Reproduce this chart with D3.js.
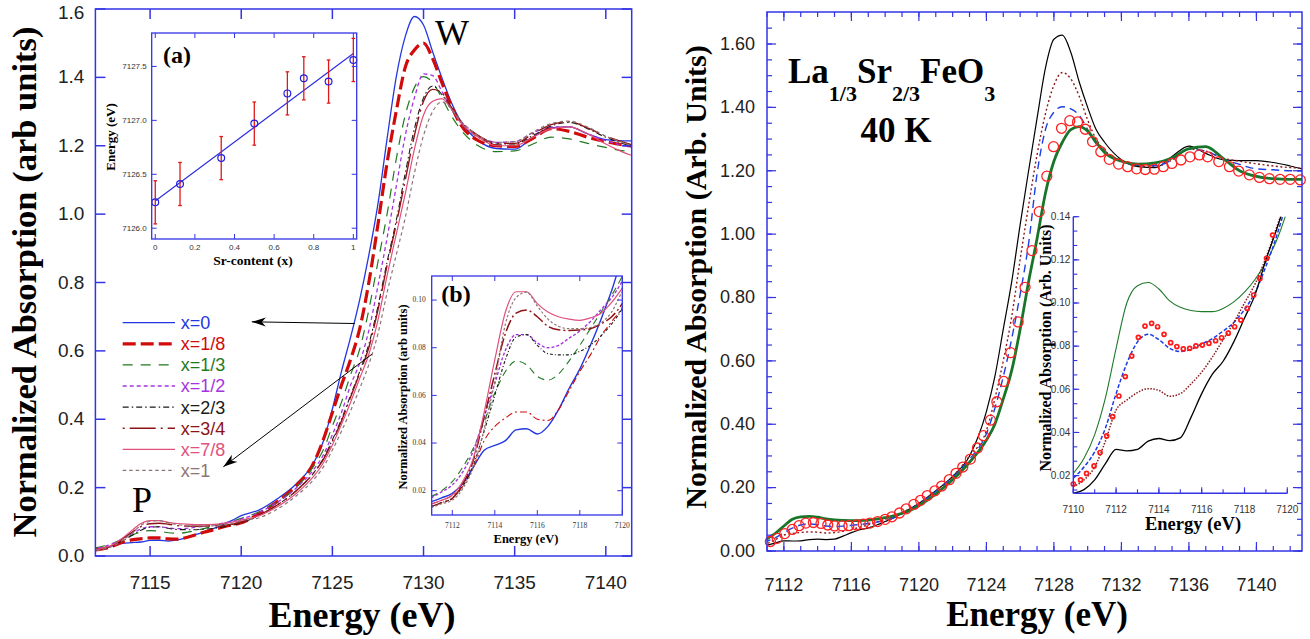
<!DOCTYPE html>
<html>
<head>
<meta charset="utf-8">
<script src="https://cdn.jsdelivr.net/npm/d3@7/dist/d3.min.js"></script>
<style>
  body { margin: 0; background: #fff; }
  svg { display: block; }
</style>
</head>
<body>
<svg id="chart" width="1310" height="639"></svg>
<script>
// ---------- left panel: Fe K-edge, La(1-x)Sr(x)FeO3 ----------
const energyL = [7111, 7111.5, 7112, 7112.5, 7113, 7113.5, 7114, 7114.5, 7115, 7115.5, 7116, 7116.5, 7117, 7117.5, 7118, 7118.5, 7119, 7119.5, 7120,
  7121, 7122, 7123, 7124,
  7124.5, 7125, 7125.5, 7126, 7126.5, 7127, 7127.5, 7128, 7128.5, 7129, 7129.5, 7130, 7130.5, 7131, 7131.5,
  7132, 7133, 7134, 7135, 7136, 7137, 7138, 7139, 7140, 7141, 7141.4];

const absX0 = [0.0154, 0.017, 0.0189, 0.023, 0.030, 0.037, 0.039, 0.041, 0.0455, 0.046, 0.0438, 0.047, 0.054, 0.063, 0.071, 0.081, 0.092, 0.104, 0.118,
  0.135, 0.168, 0.21, 0.275,
  0.335, 0.43, 0.54, 0.64, 0.75, 0.88, 1.03, 1.22, 1.40, 1.52, 1.578, 1.553, 1.475, 1.40, 1.33,
  1.275, 1.215, 1.192, 1.19, 1.225, 1.252, 1.255, 1.235, 1.218, 1.214, 1.214];
const absX18 = [0.0145, 0.016, 0.018, 0.022, 0.030, 0.041, 0.047, 0.0505, 0.053, 0.053, 0.050, 0.0495, 0.054, 0.062, 0.070, 0.077, 0.085, 0.091, 0.097,
  0.125, 0.16, 0.205, 0.275,
  0.34, 0.42, 0.50, 0.575, 0.665, 0.80, 0.97, 1.15, 1.30, 1.43, 1.48, 1.50, 1.455, 1.385, 1.32,
  1.265, 1.215, 1.20, 1.198, 1.222, 1.25, 1.242, 1.225, 1.212, 1.202, 1.20];
const absX13 = [0.0175, 0.020, 0.0238, 0.030, 0.038, 0.049, 0.061, 0.070, 0.0744, 0.0728, 0.068, 0.0664, 0.069, 0.0745, 0.081, 0.088, 0.095, 0.102, 0.110,
  0.13, 0.16, 0.2, 0.265,
  0.31, 0.38, 0.45, 0.53, 0.605, 0.72, 0.86, 1.0, 1.16, 1.29, 1.37, 1.402, 1.385, 1.34, 1.29,
  1.25, 1.20, 1.183, 1.185, 1.205, 1.225, 1.22, 1.207, 1.195, 1.185, 1.183];
const absX12 = [0.017, 0.0195, 0.0224, 0.028, 0.037, 0.051, 0.065, 0.079, 0.0855, 0.0855, 0.082, 0.080, 0.081, 0.084, 0.087, 0.091, 0.096, 0.101, 0.108,
  0.128, 0.158, 0.198, 0.255,
  0.295, 0.355, 0.42, 0.50, 0.565, 0.66, 0.79, 0.93, 1.08, 1.23, 1.34, 1.41, 1.405, 1.36, 1.31,
  1.275, 1.23, 1.21, 1.212, 1.238, 1.255, 1.255, 1.235, 1.215, 1.2, 1.197];
const absX23 = [0.0133, 0.015, 0.0168, 0.022, 0.031, 0.045, 0.060, 0.075, 0.0845, 0.0855, 0.081, 0.0775, 0.077, 0.077, 0.0785, 0.081, 0.085, 0.090, 0.0965,
  0.12, 0.15, 0.19, 0.245,
  0.285, 0.34, 0.40, 0.47, 0.54, 0.62, 0.73, 0.86, 0.98, 1.12, 1.25, 1.34, 1.375, 1.35, 1.31,
  1.27, 1.225, 1.205, 1.205, 1.23, 1.258, 1.268, 1.25, 1.225, 1.205, 1.198];
const absX34 = [0.0133, 0.015, 0.0168, 0.023, 0.033, 0.051, 0.069, 0.086, 0.0945, 0.0958, 0.093, 0.089, 0.0875, 0.0872, 0.0874, 0.088, 0.090, 0.093, 0.0986,
  0.12, 0.15, 0.19, 0.245,
  0.282, 0.335, 0.395, 0.465, 0.535, 0.61, 0.72, 0.85, 0.97, 1.10, 1.23, 1.33, 1.365, 1.355, 1.315,
  1.275, 1.23, 1.207, 1.207, 1.235, 1.262, 1.27, 1.252, 1.228, 1.21, 1.203];
const absX78 = [0.0143, 0.016, 0.0182, 0.024, 0.034, 0.053, 0.075, 0.095, 0.1035, 0.1035, 0.0985, 0.095, 0.093, 0.092, 0.0915, 0.0925, 0.0945, 0.099, 0.105,
  0.118, 0.145, 0.182, 0.235,
  0.272, 0.325, 0.385, 0.45, 0.52, 0.59, 0.69, 0.82, 0.94, 1.06, 1.19, 1.29, 1.33, 1.338, 1.31,
  1.27, 1.225, 1.2, 1.2, 1.225, 1.25, 1.255, 1.235, 1.205, 1.18, 1.172];
const absX1 = [0.0129, 0.0145, 0.016, 0.021, 0.030, 0.046, 0.066, 0.090, 0.101, 0.1033, 0.0975, 0.092, 0.089, 0.088, 0.088, 0.0885, 0.0905, 0.095, 0.1035,
  0.112, 0.138, 0.175, 0.225,
  0.26, 0.31, 0.365, 0.425, 0.49, 0.56, 0.65, 0.77, 0.88, 0.99, 1.12, 1.23, 1.30, 1.328, 1.31,
  1.275, 1.23, 1.21, 1.212, 1.24, 1.265, 1.272, 1.255, 1.228, 1.208, 1.2];

const labelsL = ["x=0", "x=1/8", "x=1/3", "x=1/2", "x=2/3", "x=3/4", "x=7/8", "x=1"];

// inset (a): edge position vs Sr content
const srContent = [0, 0.125, 0.333, 0.5, 0.667, 0.75, 0.875, 1];
const edgeEnergy = [7126.24, 7126.41, 7126.65, 7126.97, 7127.25, 7127.39, 7127.36, 7127.56];
const edgeErr = [0.2, 0.2, 0.2, 0.2, 0.2, 0.2, 0.2, 0.2];

// ---------- right panel: La1/3Sr2/3FeO3, 40 K ----------
const energyR = [7110, 7110.5, 7111, 7111.5, 7112, 7112.5, 7113, 7113.5, 7114, 7114.5, 7115, 7115.5, 7116, 7116.5, 7117, 7117.5, 7118, 7118.5, 7119, 7119.5, 7120,
  7121, 7122, 7123, 7124,
  7124.5, 7125, 7125.5, 7126, 7126.5, 7127, 7127.5, 7128, 7128.5, 7129, 7129.5, 7130, 7130.5, 7131,
  7132, 7133, 7134, 7135, 7136, 7137, 7138, 7139, 7140, 7141, 7142, 7142.7];
const absBlackR = [0.0118, 0.0135, 0.018, 0.0255, 0.0322, 0.0315, 0.0322, 0.036, 0.0372, 0.0362, 0.0375, 0.047, 0.058, 0.067, 0.073, 0.082, 0.093, 0.104, 0.12, 0.134, 0.15,
  0.19, 0.235, 0.30, 0.44,
  0.55, 0.70, 0.85, 1.03, 1.20, 1.365, 1.525, 1.615, 1.628, 1.574, 1.48, 1.40, 1.33, 1.29,
  1.235, 1.213, 1.21, 1.245, 1.278, 1.255, 1.235, 1.232, 1.232, 1.226, 1.215, 1.206];
const absDotR = [0.0149, 0.018, 0.024, 0.036, 0.0504, 0.055, 0.0585, 0.0603, 0.0595, 0.0568, 0.058, 0.0625, 0.068, 0.075, 0.083, 0.091, 0.10, 0.109, 0.121, 0.135, 0.15,
  0.19, 0.235, 0.30, 0.38,
  0.48, 0.60, 0.74, 0.92, 1.09, 1.25, 1.38, 1.47, 1.51, 1.49, 1.435, 1.36, 1.30, 1.265,
  1.232, 1.215, 1.213, 1.234, 1.268, 1.262, 1.24, 1.23, 1.222, 1.215, 1.21, 1.208];
const absDashR = [0.0188, 0.024, 0.031, 0.042, 0.058, 0.072, 0.082, 0.0855, 0.083, 0.079, 0.0775, 0.0785, 0.081, 0.0835, 0.087, 0.091, 0.097, 0.105, 0.117, 0.131, 0.148,
  0.188, 0.232, 0.29, 0.37,
  0.45, 0.55, 0.67, 0.81, 0.97, 1.19, 1.33, 1.385, 1.402, 1.395, 1.375, 1.33, 1.285, 1.262,
  1.23, 1.217, 1.216, 1.234, 1.268, 1.262, 1.238, 1.22, 1.206, 1.203, 1.2, 1.2];
const absGreenR = [0.021, 0.028, 0.039, 0.056, 0.079, 0.100, 0.108, 0.1095, 0.1065, 0.101, 0.098, 0.0965, 0.096, 0.096, 0.0975, 0.1005, 0.105, 0.111, 0.119, 0.129, 0.143,
  0.18, 0.225, 0.28, 0.35,
  0.40, 0.48, 0.57, 0.70, 0.85, 0.985, 1.13, 1.23, 1.29, 1.33, 1.339, 1.325, 1.29, 1.258,
  1.23, 1.221, 1.225, 1.24, 1.27, 1.276, 1.24, 1.2, 1.182, 1.175, 1.173, 1.173];

// measured points (open circles)
const circE = [7111.2, 7111.6, 7112.05, 7112.5, 7112.9, 7113.3, 7113.75, 7114.2, 7114.6, 7115.0, 7115.45, 7115.85, 7116.3, 7116.7, 7117.1, 7117.55,
  7118.0, 7118.4, 7118.85, 7119.25, 7119.7, 7120.1, 7120.5, 7120.95, 7121.35, 7121.8, 7122.2, 7122.6, 7123.05, 7123.47, 7123.83, 7124.24,
  7124.62, 7125.03, 7125.44, 7125.88, 7126.29, 7126.7, 7127.13, 7127.58, 7127.98, 7128.45, 7128.94, 7129.4, 7129.86, 7130.29, 7130.78, 7131.28,
  7131.83, 7132.37, 7132.9, 7133.41, 7133.95, 7134.48, 7134.99, 7135.53, 7136.06, 7136.62, 7137.11, 7137.77, 7138.4, 7138.95, 7139.58, 7140.18,
  7140.77, 7141.4, 7142.0, 7142.6];
const circV = [0.030, 0.040, 0.055, 0.068, 0.080, 0.088, 0.090, 0.087, 0.082, 0.079, 0.079, 0.080, 0.082, 0.085, 0.088, 0.093,
  0.100, 0.108, 0.12, 0.133, 0.147, 0.16, 0.175, 0.19, 0.205, 0.225, 0.245, 0.265, 0.29, 0.325, 0.364, 0.413,
  0.471, 0.535, 0.626, 0.723, 0.832, 0.948, 1.071, 1.183, 1.276, 1.334, 1.358, 1.354, 1.331, 1.292, 1.26, 1.236,
  1.221, 1.213, 1.206, 1.204, 1.205, 1.213, 1.223, 1.234, 1.244, 1.25, 1.244, 1.229, 1.213, 1.199, 1.187, 1.179,
  1.175, 1.173, 1.173, 1.171];
const insetCircE = [7110, 7110.34, 7110.62, 7110.97, 7111.25, 7111.56, 7111.84, 7112.13, 7112.43, 7112.73, 7113.04, 7113.35, 7113.66, 7113.94, 7114.24, 7114.55,
  7114.84, 7115.14, 7115.44, 7115.73, 7116.03, 7116.34, 7116.65, 7116.93, 7117.24, 7117.54, 7117.83, 7118.13, 7118.43, 7118.72, 7119.03, 7119.31];
const insetCircV = [0.0161, 0.018, 0.021, 0.0245, 0.0307, 0.0384, 0.0473, 0.0569, 0.0659, 0.0754, 0.0841, 0.0893, 0.0906, 0.089, 0.0855, 0.0816,
  0.0798, 0.0787, 0.079, 0.0801, 0.0805, 0.0813, 0.0825, 0.0839, 0.086, 0.089, 0.0921, 0.0975, 0.1037, 0.1114, 0.1207, 0.1315];

// tick labels
const tickLX = ["7115", "7120", "7125", "7130", "7135", "7140"];
const tickLY = ["0.0", "0.2", "0.4", "0.6", "0.8", "1.0", "1.2", "1.4", "1.6"];
const tickAX = ["0", "0.2", "0.4", "0.6", "0.8", "1"];
const tickAY = ["7126.0", "7126.5", "7127.0", "7127.5"];
const tickBX = ["7112", "7114", "7116", "7118", "7120"];
const tickBY = ["0.02", "0.04", "0.06", "0.08", "0.10"];
const tickRX = ["7112", "7116", "7120", "7124", "7128", "7132", "7136", "7140"];
const tickRY = ["0.00", "0.20", "0.40", "0.60", "0.80", "1.00", "1.20", "1.40", "1.60"];
const tickIX = ["7110", "7112", "7114", "7116", "7118", "7120"];
const tickIY = ["0.02", "0.04", "0.06", "0.08", "0.10", "0.12", "0.14"];

// ---------- styles ----------
const SANS = "'Liberation Sans', Arial, sans-serif";
const SERIF = "'Liberation Serif', 'Times New Roman', serif";
const FRAME = "#3434e6";
const colorsL = ["#2337e0", "#d10a0a", "#1f7a1f", "#a534e0", "#1a1a1a", "#8c1414", "#e0507c", "#8f7474"];
const dashMainL = [null, "13,5", "10,8", "4,3", "6,3,1.5,3", "26,5,2,5", null, "3.5,3"];
const widthMainL = [1.3, 3.2, 1.2, 1.3, 1.1, 1.4, 1.2, 1.2];
const dashInsetL = [null, "7,3,2,3", "7,5", "3,2", "3,2,1,2", "12,3,2,3", null, "2.5,2"];
const widthInsetL = [1.4, 1.1, 1.1, 1.4, 1.1, 1.5, 1.2, 1.2];

const svg = d3.select("#chart");
const defs = svg.append("defs");
svg.append("rect").attr("width", 1310).attr("height", 639).attr("fill", "#fff");

function addClip(id, x, y) {
  const [x0, x1] = x.range(), [y0, y1] = y.range();
  defs.append("clipPath").attr("id", id).append("rect")
    .attr("x", x0).attr("y", y1).attr("width", x1 - x0).attr("height", y0 - y1);
}

function frameRect(g, x, y, sw) {
  const [x0, x1] = x.range(), [y0, y1] = y.range();
  g.append("rect").attr("x", x0).attr("y", y1).attr("width", x1 - x0).attr("height", y0 - y1)
    .attr("fill", "none").attr("stroke", FRAME).attr("stroke-width", sw);
}

// inward ticks on the chosen sides, labels on bottom and left
function drawTicks(g, x, y, o) {
  const [x0, x1] = x.range(), [y0, y1] = y.range();
  const side = (gen, tr, vals, len, labels, pad) => {
    const a = g.append("g").attr("transform", tr)
      .call(gen.tickValues(vals).tickSize(-len).tickPadding(pad || 3).offset(0)
        .tickFormat(labels ? (d, i) => labels[i] : () => ""));
    a.select(".domain").remove();
    a.selectAll(".tick line").attr("stroke", FRAME).attr("stroke-width", o.tickWidth);
    a.attr("font-family", o.font).attr("font-size", o.fontSize);
    a.selectAll(".tick text").attr("fill", o.textColor || "#222");
    return a;
  };
  const xv = o.xLabels.map(Number), yv = o.yLabels.map(Number);
  let left = null;
  if (o.sides.includes("b")) {
    if (o.xMinor) side(d3.axisBottom(x), `translate(0,${y0})`, o.xMinor, o.minorLen);
    side(d3.axisBottom(x), `translate(0,${y0})`, xv, o.majorLen, o.xLabels, o.xPad);
  }
  if (o.sides.includes("t")) {
    if (o.xMinor) side(d3.axisTop(x), `translate(0,${y1})`, o.xMinor, o.minorLen);
    side(d3.axisTop(x), `translate(0,${y1})`, xv, o.majorLen);
  }
  if (o.sides.includes("l")) {
    if (o.yMinor) side(d3.axisLeft(y), `translate(${x0},0)`, o.yMinor, o.minorLen);
    left = side(d3.axisLeft(y), `translate(${x0},0)`, yv, o.majorLen, o.yLabels, o.yPad);
  }
  if (o.sides.includes("r")) {
    if (o.yMinor) side(d3.axisRight(y), `translate(${x1},0)`, o.yMinor, o.minorLen);
    side(d3.axisRight(y), `translate(${x1},0)`, yv, o.majorLen);
  }
  return left;
}

function title(g, txt, x, y, size, rotate, weight) {
  g.append("text").attr("transform", `translate(${x},${y})` + (rotate ? " rotate(-90)" : ""))
    .attr("text-anchor", "middle").attr("font-family", SERIF).attr("font-weight", weight || "bold")
    .attr("font-size", size).attr("fill", "#000").text(txt);
}

const lineOn = (energy, x, y) => d3.line()
  .x((d, i) => x(energy[i])).y(d => y(d)).curve(d3.curveMonotoneX);

defs.append("marker").attr("id", "arrow").attr("viewBox", "0 -5 14 10")
  .attr("refX", 14).attr("refY", 0).attr("markerWidth", 14).attr("markerHeight", 10)
  .attr("markerUnits", "userSpaceOnUse").attr("orient", "auto")
  .append("path").attr("d", "M0,-4.5L14,0L0,4.5L4,0Z").attr("fill", "#000");

// ================= LEFT PANEL =================
const seriesL = [absX0, absX18, absX13, absX12, absX23, absX34, absX78, absX1];
const xL = d3.scaleLinear().domain([7112, 7141.42]).range([95.4, 631.7]);
const yL = d3.scaleLinear().domain([0, 1.6]).range([556, 9]);
const gL = svg.append("g");
addClip("clipL", xL, yL);

gL.append("g").attr("clip-path", "url(#clipL)")
  .selectAll("path").data(seriesL).join("path")
  .attr("d", lineOn(energyL, xL, yL)).attr("fill", "none")
  .attr("stroke", (d, i) => colorsL[i]).attr("stroke-width", (d, i) => widthMainL[i])
  .attr("stroke-dasharray", (d, i) => dashMainL[i]);

frameRect(gL, xL, yL, 1.5);
const leftAxisL = drawTicks(gL, xL, yL, {sides: "btlr", xLabels: tickLX, yLabels: tickLY, majorLen: 10,
  xPad: 20, yPad: 11, font: SANS, fontSize: 19, tickWidth: 1.5});
// the top label sits right at the upper edge of the page; nudge it down a little
leftAxisL.selectAll(".tick text").filter(d => d === 1.6).attr("dy", "0.55em");
title(gL, "Normalized Absorption (arb units)", 36, 282, 34.5, true);
title(gL, "Energy (eV)", 362, 627, 36);
title(gL, "W", 452, 45, 36, false, "normal");
title(gL, "P", 142, 512, 36, false, "normal");

// legend
const legend = gL.append("g");
labelsL.forEach((name, i) => {
  const yy = 322.7 + i * 21.1;
  legend.append("line").attr("x1", 122.7).attr("x2", 175).attr("y1", yy).attr("y2", yy)
    .attr("stroke", colorsL[i]).attr("stroke-width", widthMainL[i])
    .attr("stroke-dasharray", dashMainL[i]).attr("stroke-dashoffset", i === 5 ? 31 : 0);
  legend.append("text").attr("x", 180.7).attr("y", yy).attr("dy", "0.36em")
    .attr("font-family", SANS).attr("font-size", 18).attr("fill", colorsL[i]).text(name);
});

// arrows from the legend to the edge
const arrowsL = [
  {from: [7126.23, 0.68], to: [7120.58, 0.685]},
  {from: [7127.16, 0.59], to: [7119.02, 0.261]}
];
gL.selectAll(".arrow").data(arrowsL).join("line").attr("class", "arrow")
  .attr("x1", d => xL(d.from[0])).attr("y1", d => yL(d.from[1]))
  .attr("x2", d => xL(d.to[0])).attr("y2", d => yL(d.to[1]))
  .attr("stroke", "#000").attr("stroke-width", 1).attr("marker-end", "url(#arrow)");

// ---- inset (a) ----
const xA = d3.scaleLinear().domain([-0.018, 1.017]).range([151.7, 356.7]);
const yA = d3.scaleLinear().domain([7125.9, 7127.81]).range([239, 33]);
const gA = svg.append("g");
gA.append("rect").attr("x", 151.7).attr("y", 33).attr("width", 205).attr("height", 206).attr("fill", "#fff");
const mx = d3.mean(srContent), my = d3.mean(edgeEnergy);
const slope = d3.sum(srContent, (v, i) => (v - mx) * (edgeEnergy[i] - my)) / d3.sum(srContent, v => (v - mx) ** 2);
const icpt = my - slope * mx;
gA.append("line").attr("x1", xA(0)).attr("y1", yA(icpt)).attr("x2", xA(1)).attr("y2", yA(icpt + slope))
  .attr("stroke", "#2a2ae0").attr("stroke-width", 1.1);
const bars = gA.append("g").attr("stroke", "#e01818").attr("stroke-width", 1.3);
srContent.forEach((s, i) => {
  const cx = xA(s), lo = yA(edgeEnergy[i] - edgeErr[i]), hi = yA(edgeEnergy[i] + edgeErr[i]);
  bars.append("line").attr("x1", cx).attr("x2", cx).attr("y1", lo).attr("y2", hi);
  bars.append("line").attr("x1", cx - 1.8).attr("x2", cx + 1.8).attr("y1", lo).attr("y2", lo);
  bars.append("line").attr("x1", cx - 1.8).attr("x2", cx + 1.8).attr("y1", hi).attr("y2", hi);
});
gA.selectAll("circle").data(srContent).join("circle")
  .attr("cx", d => xA(d)).attr("cy", (d, i) => yA(edgeEnergy[i])).attr("r", 3.4)
  .attr("fill", "none").attr("stroke", "#1f1fe6").attr("stroke-width", 1.2);
frameRect(gA, xA, yA, 1.3);
drawTicks(gA, xA, yA, {sides: "btlr", xLabels: tickAX, yLabels: tickAY, majorLen: 5,
  xPad: 5, yPad: 5, font: SANS, fontSize: 8, tickWidth: 1, textColor: "#333"});
title(gA, "(a)", 177, 63, 24);
title(gA, "Energy (eV)", 115, 137, 13, true);
title(gA, "Sr-content (x)", 253, 265, 13.5);

// ---- inset (b) ----
const xB = d3.scaleLinear().domain([7111.03, 7120]).range([431.7, 622.3]);
const yB = d3.scaleLinear().domain([0.0098, 0.1101]).range([515, 276]);
const gB = svg.append("g");
gB.append("rect").attr("x", 431.7).attr("y", 276).attr("width", 190.6).attr("height", 239).attr("fill", "#fff");
addClip("clipB", xB, yB);
gB.append("g").attr("clip-path", "url(#clipB)")
  .selectAll("path").data(seriesL).join("path")
  .attr("d", lineOn(energyL, xB, yB)).attr("fill", "none")
  .attr("stroke", (d, i) => colorsL[i]).attr("stroke-width", (d, i) => widthInsetL[i])
  .attr("stroke-dasharray", (d, i) => dashInsetL[i]);
frameRect(gB, xB, yB, 1.3);
drawTicks(gB, xB, yB, {sides: "btlr", xLabels: tickBX, yLabels: tickBY, majorLen: 5,
  xPad: 8, yPad: 6, font: SERIF, fontSize: 7.5, tickWidth: 1, textColor: "#333"});
title(gB, "(b)", 456, 302, 24);
title(gB, "Normalized Absorption (arb units)", 407, 397, 12.5, true);
title(gB, "Energy (eV)", 526, 543, 12.5);

// ================= RIGHT PANEL =================
const xR = d3.scaleLinear().domain([7111.0, 7142.7]).range([767, 1302]);
const yR = d3.scaleLinear().domain([0, 1.701]).range([551, 12]);
const gR = svg.append("g");
addClip("clipR", xR, yR);
const stylesR = [
  {data: absBlackR, color: "#000", width: 1.2, dash: null},
  {data: absDotR, color: "#8b1a1a", width: 1.4, dash: "2,2.5"},
  {data: absDashR, color: "#1f3fe6", width: 1.4, dash: "8,5"},
  {data: absGreenR, color: "#18752a", width: 2.8, dash: null}
];
const plotR = gR.append("g").attr("clip-path", "url(#clipR)");
plotR.selectAll("path").data(stylesR).join("path")
  .attr("d", d => lineOn(energyR, xR, yR)(d.data)).attr("fill", "none")
  .attr("stroke", d => d.color).attr("stroke-width", d => d.width).attr("stroke-dasharray", d => d.dash);
gR.append("g").selectAll("circle").data(circE).join("circle")
  .attr("cx", d => xR(d)).attr("cy", (d, i) => yR(circV[i])).attr("r", 5)
  .attr("fill", "none").attr("stroke", "#ff2020").attr("stroke-width", 1.3);
frameRect(gR, xR, yR, 1.5);
drawTicks(gR, xR, yR, {sides: "btlr", xLabels: tickRX, yLabels: tickRY, majorLen: 9, minorLen: 5,
  xMinor: d3.range(7111, 7143, 1), yMinor: d3.range(0, 1.7, 0.05),
  xPad: 27, yPad: 12, font: SANS, fontSize: 18, tickWidth: 1.2});
title(gR, "Normalized Absorption (Arb. Units)", 706, 277, 30, true);
title(gR, "Energy (eV)", 1037, 626, 35);

const head = gR.append("text").attr("x", 788).attr("y", 83)
  .attr("font-family", SERIF).attr("font-weight", "bold").attr("font-size", 35).attr("fill", "#000");
head.append("tspan").text("La");
head.append("tspan").attr("font-size", 22).attr("dy", 18).text("1/3");
head.append("tspan").attr("dy", -18).text("Sr");
head.append("tspan").attr("font-size", 22).attr("dy", 18).text("2/3");
head.append("tspan").attr("dy", -18).text("FeO");
head.append("tspan").attr("font-size", 22).attr("dy", 18).text("3");
title(gR, "40 K", 896, 142, 35);

// ---- right inset ----
const xI = d3.scaleLinear().domain([7110, 7120]).range([1073.3, 1287.3]);
const yI = d3.scaleLinear().domain([0.0118, 0.14]).range([493.3, 216.7]);
const gI = svg.append("g");
addClip("clipI", xI, yI);
const stylesI = [
  {data: absGreenR, color: "#1f7a2a", width: 1.1, dash: null},
  {data: absDashR, color: "#1a3ae6", width: 1.5, dash: "4,2"},
  {data: absDotR, color: "#8b1a1a", width: 1.5, dash: "1.5,1.5"},
  {data: absBlackR, color: "#000", width: 1.3, dash: null}
];
gI.append("g").attr("clip-path", "url(#clipI)")
  .selectAll("path").data(stylesI).join("path")
  .attr("d", d => lineOn(energyR, xI, yI)(d.data)).attr("fill", "none")
  .attr("stroke", d => d.color).attr("stroke-width", d => d.width).attr("stroke-dasharray", d => d.dash);
gI.append("g").selectAll("circle").data(insetCircE).join("circle")
  .attr("cx", d => xI(d)).attr("cy", (d, i) => yI(insetCircV[i])).attr("r", 2)
  .attr("fill", "none").attr("stroke", "#ff1a1a").attr("stroke-width", 1.7);
gI.append("line").attr("x1", 1073.3).attr("x2", 1073.3).attr("y1", 216.7).attr("y2", 493.3)
  .attr("stroke", FRAME).attr("stroke-width", 1.4);
gI.append("line").attr("x1", 1073.3).attr("x2", 1287.3).attr("y1", 493.3).attr("y2", 493.3)
  .attr("stroke", FRAME).attr("stroke-width", 1.4);
drawTicks(gI, xI, yI, {sides: "bl", xLabels: tickIX, yLabels: tickIY, majorLen: 6, minorLen: 4,
  xMinor: d3.range(7110, 7121, 1), yMinor: d3.range(2, 22).map(k => k * 0.02 / 3),
  xPad: 13, yPad: 3, font: SANS, fontSize: 10, tickWidth: 1.1, textColor: "#333"});
title(gI, "Normalized Absorption (Arb. Units)", 1051, 348, 16, true);
title(gI, "Energy (eV)", 1193, 530, 18.5);
</script>
</body>
</html>
